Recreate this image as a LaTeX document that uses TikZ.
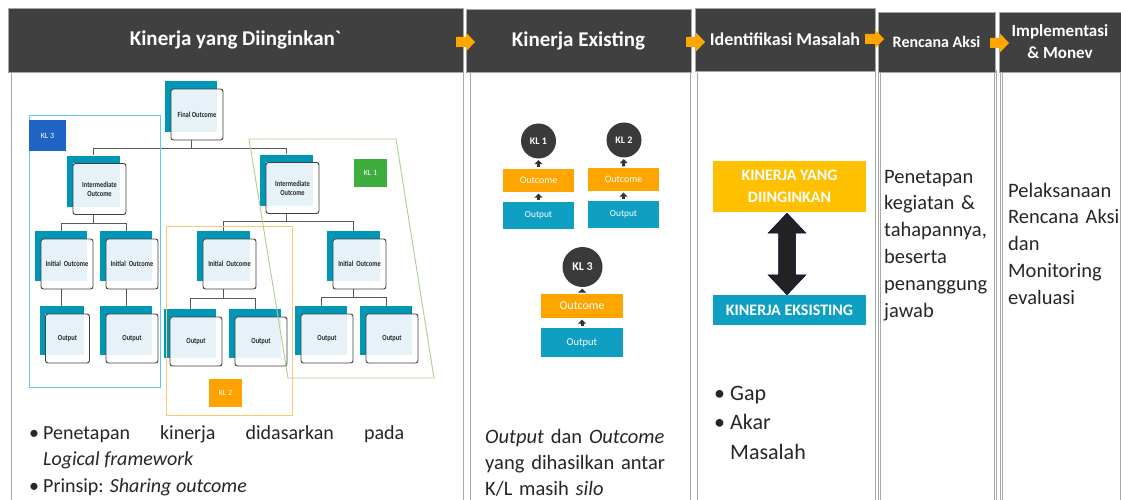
\documentclass[tikz,border=0pt]{standalone}
\usepackage{fontspec}
\setmainfont{Carlito}
\newfontfamily\condfont{Carlito}[FakeStretch=0.82]
\usetikzlibrary{calc,arrows.meta}
\pgfdeclarelayer{bg}
\pgfsetlayers{bg,main}
\definecolor{hdr}{HTML}{404040}
\definecolor{org}{HTML}{FFA500}
\definecolor{tealb}{HTML}{0097B7}
\definecolor{lightb}{HTML}{E6F2F8}
\definecolor{tealc}{HTML}{0E9FC2}
\definecolor{yel}{HTML}{FFC000}
\definecolor{circ}{HTML}{3A3A3A}
\definecolor{bordr}{HTML}{A8A8A8}
\definecolor{kcyan}{HTML}{5CCBF2}
\definecolor{korange}{HTML}{FFC76E}
\definecolor{kgreen}{HTML}{A9D18E}
\definecolor{kblue}{HTML}{1F63C5}
\definecolor{kgreenf}{HTML}{3DAE3D}
\definecolor{korangef}{HTML}{FFA200}
\definecolor{darr}{HTML}{222222}
\tikzset{
  hdrbox/.style={fill=hdr, draw=gray!70, line width=0.4pt, text=white, inner sep=0, align=center},
  colbody/.style={draw=bordr, double=white, double distance=1.8pt, line width=0.6pt},
  backbox/.style={fill=tealb, inner sep=0},
  frontbox/.style={draw=black!75, line width=0.9pt, rounded corners=2.5pt, inner sep=0, align=center,
    font=\condfont\fontsize{7.8}{8.8}\selectfont\bfseries, text=black!85},
  conn/.style={draw=black!65, line width=0.9pt},
  klbox/.style={inner sep=0, text=white, font=\fontsize{8}{9}\selectfont},
  klcirc/.style={circle, fill=circ, inner sep=0, text=white},
  ocbox/.style={fill=org, inner sep=0, text=white},
  opbox/.style={fill=tealc, inner sep=0, text=white},
  uparr/.style={draw=black!80, line width=3pt, -{Triangle[width=8pt,length=4pt]}, shorten >=1.5pt, shorten <=1.5pt},
  bodytext/.style={anchor=base west, inner sep=0, align=left, text=black!85}
}
\newcommand\tbox[6]{%
  \node[backbox, minimum width=#4pt, minimum height=#5pt] (#1b) at (#2,#3) {};
  \fill[lightb] ($(#1b.north west)+(6,8)$) rectangle (#1b.south east);
  \node[frontbox, minimum width=#4pt, minimum height=#5pt] (#1) at ($(#1b)+(6,8)$) {#6};
}
\newcommand\hdrarrow[2]{%
  \fill[org] (#1,#2) ++(0,-5) -- ++(10,0) -- ++(0,-4.5) -- ++(9,9.5) -- ++(-9,9.5) -- ++(0,-4.5) -- ++(-10,0) -- cycle;
}
\begin{document}
\begin{tikzpicture}[x=1pt,y=-1pt]
\useasboundingbox (0,0) rectangle (1121,500);
\begin{pgfonlayer}{bg}
  \fill[white] (0,0) rectangle (1121,500);
\end{pgfonlayer}

% column bodies
\draw[colbody] (10,72) rectangle (462,510);
\draw[colbody] (469,72) rectangle (689,510);
\draw[colbody] (696,72) rectangle (874,510);
\draw[colbody] (879.5,72) rectangle (995.5,510);
\draw[colbody] (1001.5,72) rectangle (1119,510);

% headers
\node[hdrbox, minimum width=455pt, minimum height=64pt, font=\fontsize{21}{24}\selectfont\bfseries] (h1) at (235.5,40) {Kinerja yang Diinginkan\textasciigrave};
\node[hdrbox, minimum width=225pt, minimum height=63pt, font=\fontsize{21}{24}\selectfont\bfseries] (h2) at (578.5,40.5) {Kinerja Existing};
\node[hdrbox, minimum width=180pt, minimum height=63pt, font=\fontsize{18}{21}\selectfont\bfseries] (h3) at (785,39.5) {Identifikasi Masalah};
\node[hdrbox, minimum width=117pt, minimum height=60pt, font=\fontsize{16}{19}\selectfont\bfseries] (h4) at (936.5,42) {Rencana Aksi};
\node[hdrbox, minimum width=122pt, minimum height=60pt, font=\fontsize{17}{22}\selectfont\bfseries] (h5) at (1060,42) {Implementasi\\\& Monev};
\hdrarrow{456}{42}
\hdrarrow{686}{42}
\hdrarrow{865}{39}
\hdrarrow{990}{43}

% tree
\tbox{fo}{191}{106.5}{52}{51}{Final Outcome}
\tbox{iml}{93.5}{181}{53}{51}{Intermediate\\Outcome}
\tbox{imr}{286.5}{180}{53}{51}{Intermediate\\Outcome}
\tbox{inla}{61}{256}{52}{50}{Initial\ \ Outcome}
\tbox{inlb}{126}{256}{52}{50}{Initial\ \ Outcome}
\tbox{inra}{223.5}{256}{53}{50}{Initial\ \ Outcome}
\tbox{inrb}{353.5}{256}{53}{50}{Initial\ \ Outcome}
\tbox{oula}{61.5}{330.5}{44}{49}{Output}
\tbox{oulb}{126}{330.5}{52}{49}{Output}
\tbox{oura}{190}{333.5}{52}{49}{Output}
\tbox{ourb}{255}{333.5}{52}{49}{Output}
\tbox{ourc}{321}{330.5}{52}{49}{Output}
\tbox{ourd}{386}{330.5}{52}{49}{Output}

\begin{pgfonlayer}{bg}
  \draw[conn] (fob.south |- fo.south) -- ++(0,8) -| (imlb.north);
  \draw[conn] (fob.south |- fo.south) -- ++(0,8) -| (imrb.north);
  \draw[conn] (imlb.south |- iml.south) -- ++(0,8) -| (inlab.north);
  \draw[conn] (imlb.south |- iml.south) -- ++(0,8) -| (inlbb.north);
  \draw[conn] (imrb.south |- imr.south) -- ++(0,7) -| (inrab.north);
  \draw[conn] (imrb.south |- imr.south) -- ++(0,7) -| (inrbb.north);
  \draw[conn] (inlab.south |- inla.south) -- (inlab.south |- oulab.north);
  \draw[conn] (inlbb.south |- inlb.south) -- (inlbb.south |- oulbb.north);
  \draw[conn] (inrab.south |- inra.south) -- ++(0,9) -| (ourab.north);
  \draw[conn] (inrab.south |- inra.south) -- ++(0,9) -| (ourbb.north);
  \draw[conn] (inrbb.south |- inrb.south) -- ++(0,8) -| (ourcb.north);
  \draw[conn] (inrbb.south |- inrb.south) -- ++(0,8) -| (ourdb.north);
\end{pgfonlayer}

% groups
\draw[kcyan, line width=0.9pt] (29,115) rectangle (160,387);
\draw[korange, line width=0.9pt] (166,226) rectangle (292,415);
\draw[kgreen, line width=0.9pt] (249,139) -- (396,139) -- (434,378) -- (288,378) -- cycle;
\node[klbox, fill=kblue, minimum width=37pt, minimum height=31pt] (kl3) at (47.5,135.5) {KL 3};
\node[klbox, fill=kgreenf, minimum width=33pt, minimum height=28pt] (kl1) at (370.5,173) {KL 1};
\node[klbox, fill=korangef, minimum width=33pt, minimum height=28pt] (kl2) at (225.5,393) {KL 2};

% left text
\node[bodytext, text width=375pt, align=justify, font=\fontsize{20}{26.5}\selectfont] (lt) at (29,439)
  {\hangindent=14pt\hangafter=1\makebox[14pt][l]{\textbullet}Penetapan kinerja didasarkan pada\linebreak \textit{Logical framework}\par
   \hangindent=14pt\hangafter=1\makebox[14pt][l]{\textbullet}Prinsip: \textit{Sharing outcome}};

% column 2
\node[klcirc, minimum size=35pt, font=\fontsize{10}{12}\selectfont\bfseries] (c1) at (538.5,141) {KL 1};
\node[ocbox, minimum width=71pt, minimum height=23pt, font=\fontsize{10}{12}\selectfont] (oc1) at (538.5,180.5) {Outcome};
\node[opbox, minimum width=71pt, minimum height=27pt, font=\fontsize{9.3}{11}\selectfont] (op1) at (538.5,215.5) {Output};
\node[klcirc, minimum size=35pt, font=\fontsize{10}{12}\selectfont\bfseries] (c2) at (624,140) {KL 2};
\node[ocbox, minimum width=71pt, minimum height=23pt, font=\fontsize{10}{12}\selectfont] (oc2) at (623.5,179.5) {Outcome};
\node[opbox, minimum width=71pt, minimum height=27pt, font=\fontsize{9.3}{11}\selectfont] (op2) at (623.5,214.5) {Output};
\node[klcirc, minimum size=40pt, font=\fontsize{12}{14}\selectfont\bfseries] (c3) at (582.5,267) {KL 3};
\node[ocbox, minimum width=82pt, minimum height=24pt, font=\fontsize{12}{14}\selectfont] (oc3) at (582,306) {Outcome};
\node[opbox, minimum width=82pt, minimum height=29pt, font=\fontsize{10.5}{12}\selectfont] (op3) at (582,342.5) {Output};
\draw[uparr] (op1) -- (oc1);
\draw[uparr] (oc1) -- (c1);
\draw[uparr] (op2) -- (oc2);
\draw[uparr] (oc2) -- (c2);
\draw[uparr] (op3) -- (oc3);
\draw[uparr] (oc3) -- (c3);
\node[bodytext, text width=210pt, font=\fontsize{20.5}{26}\selectfont] (t2) at (485,443)
  {\textit{Output} dan \textit{Outcome}\\yang dihasilkan antar\\K/L masih \textit{silo}};

% column 3
\node[fill=yel, inner sep=0, minimum width=153pt, minimum height=51pt, text=white, align=center,
  font=\fontsize{16}{22}\selectfont\bfseries] (ky) at (789.5,186.5) {KINERJA YANG\\DIINGINKAN};
\node[fill=tealc, inner sep=0, minimum width=153pt, minimum height=30pt, text=white,
  font=\fontsize{16}{20}\selectfont\bfseries] (ke) at (789.5,310) {KINERJA EKSISTING};
\coordinate (at) at ($(ky.south)+(-2.5,1)$);
\coordinate (ab) at ($(ke.north)+(-2.5,0)$);
\fill[darr, draw=black!70!blue, line width=0.5pt] (at) -- ($(at)+(19,20)$) -- ($(at)+(8.5,20)$) -- ($(ab)+(8.5,-20)$) -- ($(ab)+(19,-20)$)
  -- (ab) -- ($(ab)+(-19,-20)$) -- ($(ab)+(-8.5,-20)$) -- ($(at)+(-8.5,20)$) -- ($(at)+(-19,20)$) -- cycle;
\node[bodytext, text width=170pt, font=\fontsize{22}{29.5}\selectfont] (t3) at (714,400)
  {\makebox[16pt][l]{\textbullet}Gap\\\makebox[16pt][l]{\textbullet}Akar\\\hspace*{16pt}Masalah};

% column 4 and 5
\node[bodytext, text width=112pt, font=\fontsize{20.5}{26.8}\selectfont] (t4) at (884,183)
  {Penetapan\\kegiatan \&\\tahapannya,\\beserta\\penanggung\\jawab};
\node[bodytext, text width=118pt, font=\fontsize{20.5}{26.8}\selectfont] (t5) at (1008,197)
  {Pelaksanaan\\Rencana Aksi\\dan\\Monitoring\\evaluasi};
\end{tikzpicture}
\end{document}
